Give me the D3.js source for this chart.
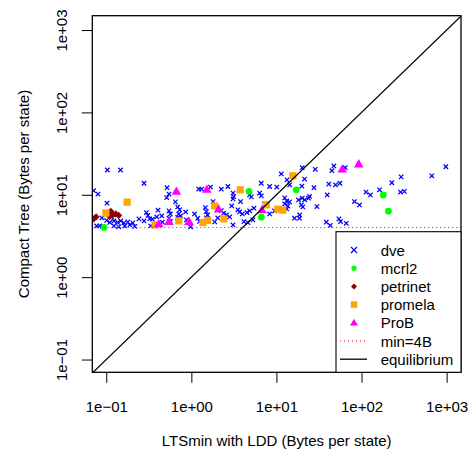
<!DOCTYPE html>
<html>
<head>
<meta charset="utf-8">
<script src="https://cdn.jsdelivr.net/npm/d3@7"></script>
<style>
  html, body { margin: 0; padding: 0; background: #fff; }
  svg { display: block; font-family: "Liberation Sans", Arial, Helvetica, sans-serif; }
</style>
</head>
<body>
<svg id="chart" width="473" height="457"></svg>
<script>
// Bytes per state: [LTSmin with LDD, Compact Tree]
const dve = [
  [0.103,20.0],[0.147,20.0],[0.278,13.8],[0.071,11.2],[0.080,10.2],[0.102,7.9],
  [0.296,6.08],[0.309,5.62],[0.324,5.10],[0.242,5.10],[0.278,4.82],[0.349,5.06],
  [0.101,4.89],[0.110,4.62],[0.123,4.82],[0.136,4.62],[0.148,4.82],[0.161,4.56],
  [0.179,4.69],[0.189,4.31],[0.205,4.56],[0.165,4.19],[0.077,4.19],[0.084,4.19],
  [0.091,4.13],[0.123,4.19],[0.140,4.08],[0.216,4.13],[0.406,6.51],[0.457,4.65],
  [0.333,4.19],[0.116,5.39],[0.089,5.24],
  [0.518,12.2],[0.546,10.2],[0.513,9.25],[0.649,8.20],[0.546,6.38],[0.567,5.86],
  [0.690,7.13],[0.729,6.56],[0.710,5.86],[0.749,5.54],[0.690,5.31],[0.546,5.20],
  [0.567,4.75],[0.873,4.96],[0.937,4.62],[0.981,4.08],[1.19,5.20],[1.25,4.75],
  [1.22,11.7],[1.32,11.7],[1.46,7.0],[1.50,6.25],[1.55,5.70],[1.51,5.24],
  [1.68,12.4],[1.80,8.27],[2.25,11.7],[2.69,12.6],[3.09,10.5],[3.14,9.50],
  [3.09,8.92],[3.79,8.27],[2.25,6.44],[2.40,5.98],[2.58,5.70],[2.82,5.39],
  [2.98,7.33],[3.09,4.31],[3.52,6.56],[3.69,6.20],[3.97,5.86],[4.50,6.08],
  [4.84,6.38],[5.44,6.87],[4.15,4.73],[4.62,4.60],[5.29,4.96],[4.84,9.97],
  [5.07,9.43],[1.88,4.69],[2.04,5.24],[1.09,5.86],[0.857,6.20],[0.449,5.54],
  [0.392,5.39],
  [6.64,13.8],[6.34,10.5],[6.64,9.70],[8.31,12.6],[10.1,12.4],[11.4,17.9],
  [13.3,15.2],[14.3,13.2],[12.5,9.17],[13.2,8.43],[12.5,7.75],[13.6,7.33],
  [14.3,8.20],[13.2,6.74],[16.3,5.20],[18.2,8.67],[20.1,9.10],[24.5,9.56],
  [19.9,12.7],[28.6,20.4],[47.3,22.4],[41.3,13.5],[49.5,13.2],[20.1,21.3],
  [44.8,19.6],[64.4,21.3],[980,21.9],[21.4,15.5],[670,17.0],[292,16.5],
  [227,14.0],[55.7,13.8],[27.6,12.2],[39.5,9.97],[113,10.8],[127,9.97],
  [163,11.5],[287,10.8],[319,11.0],[21.4,8.67],[23.8,9.10],[19.6,7.54],
  [20.4,7.13],[29.9,7.20],[82.8,8.27],[94.6,7.54],[18.7,5.70],[18.7,5.20],
  [38.5,4.65],[42.9,4.24],[54.2,5.10],[56.7,4.73],[66.1,4.50],[7.26,7.75],
  [8.31,5.86],[9.51,6.38]
];
const mcrl2 = [[0.094,4.02],[4.75,11.0],[17.1,11.5],[6.64,5.35],[180,9.97],[207,6.33]];
const petrinet = [[0.071,5.10],[0.076,5.39],[0.104,6.03],[0.113,6.29],[0.119,5.70],
  [0.129,5.86],[0.140,5.62],[0.110,5.47]];
const promela = [[0.099,6.00],[0.176,8.13],[0.374,4.31],[0.710,4.82],[1.37,4.60],
  [1.55,4.89],[1.88,7.33],[2.41,5.10],[3.76,11.5],[7.60,7.54],[10.4,6.69],
  [11.9,6.51],[15.6,17.0]];
const prob = [[0.414,4.43],[0.546,4.73],[0.667,11.0],[0.937,4.73],[1.52,11.6],
  [2.09,6.69],[6.75,6.56],[59.4,20.4],[92.8,23.6]];

const tickValues = [0.1, 1, 10, 100, 1000];
const tickLabels = ["1e\u221201", "1e+00", "1e+01", "1e+02", "1e+03"];
const minBytes = 4;
const legendLabels = ["dve", "mcrl2", "petrinet", "promela", "ProB", "min=4B", "equilibrium"];

const svg = d3.select("#chart");
const L = 92.3, R = 461, T = 15.7, B = 372.3;

// log axes spanning 0.1..1000 plus the usual 4% margin on each side
const x = d3.scaleLog().domain([Math.pow(10, -1.164), Math.pow(10, 3.169)]).range([L, R]);
const y = d3.scaleLog().domain([Math.pow(10, -1.155), Math.pow(10, 3.174)]).range([B, T]);

svg.append("clipPath").attr("id", "plotClip")
  .append("rect").attr("x", L).attr("y", T).attr("width", R - L).attr("height", B - T);

// axes
const fmt = v => tickLabels[tickValues.indexOf(v)];
const xAxis = svg.append("g").attr("transform", `translate(0,${B})`)
  .call(d3.axisBottom(x).tickValues(tickValues).tickFormat(fmt).tickSizeOuter(0).tickSize(10.5).tickPadding(0));
const yAxis = svg.append("g").attr("transform", `translate(${L},0)`)
  .call(d3.axisLeft(y).tickValues(tickValues).tickFormat(fmt).tickSizeOuter(0).tickSize(10.5));
[xAxis, yAxis].forEach(g => {
  g.select(".domain").remove();
  g.selectAll("line").attr("stroke", "#000").attr("stroke-width", 1);
  g.selectAll("text").attr("fill", "#000").style("font-size", "15px").style("font-family", null);
});
xAxis.selectAll("text").attr("y", 0).attr("dy", null)
  .attr("transform", "translate(0,36)").attr("dominant-baseline", "middle");
yAxis.selectAll("text").attr("x", null).attr("y", 0).attr("dy", null)
  .attr("text-anchor", "middle")
  .attr("transform", "translate(-25,0) rotate(-90)");

// axis titles
svg.append("text").attr("x", (L + R) / 2).attr("y", 446).attr("text-anchor", "middle")
  .style("font-size", "15px").text("LTSmin with LDD (Bytes per state)");
svg.append("text").attr("transform", `translate(29,${(T + B) / 2}) rotate(-90)`)
  .attr("text-anchor", "middle").style("font-size", "15px").text("Compact Tree (Bytes per state)");

const plot = svg.append("g").attr("clip-path", "url(#plotClip)");

// symbol painters
function cross(g, cx, cy, s, w) {
  g.append("path").attr("d", `M${cx - s},${cy - s}L${cx + s},${cy + s}M${cx - s},${cy + s}L${cx + s},${cy - s}`)
    .attr("stroke", "#0000ff").attr("stroke-width", w).attr("fill", "none");
}
function circle(g, cx, cy, r) {
  g.append("circle").attr("cx", cx).attr("cy", cy).attr("r", r).attr("fill", "#00ff00");
}
function diamond(g, cx, cy, s) {
  g.append("path").attr("d", `M${cx},${cy - s}L${cx + s},${cy}L${cx},${cy + s}L${cx - s},${cy}Z`).attr("fill", "#8b0000");
}
function square(g, cx, cy, s) {
  g.append("rect").attr("x", cx - s).attr("y", cy - s).attr("width", 2 * s).attr("height", 2 * s).attr("fill", "#ffa500");
}
function triangle(g, cx, cy, s) {
  const h = s * 1.732;
  g.append("path").attr("d", `M${cx},${cy - h * 0.6}L${cx + s},${cy + h * 0.4}L${cx - s},${cy + h * 0.4}Z`).attr("fill", "#ff00ff");
}

dve.forEach(d => cross(plot, x(d[0]), y(d[1]), 2.2, 1.25));
mcrl2.forEach(d => circle(plot, x(d[0]), y(d[1]), 3.4));
petrinet.forEach(d => diamond(plot, x(d[0]), y(d[1]), 3.6));
promela.forEach(d => square(plot, x(d[0]), y(d[1]), 3.6));
prob.forEach(d => triangle(plot, x(d[0]), y(d[1]), 4.8));

// minimum line and equilibrium
plot.append("line").attr("x1", L).attr("x2", R).attr("y1", y(minBytes)).attr("y2", y(minBytes))
  .attr("stroke", "#ff0000").attr("stroke-width", 1).attr("stroke-dasharray", "1,3");
const e0 = Math.pow(10, -1.3), e1 = Math.pow(10, 3.3);
plot.append("line").attr("x1", x(e0)).attr("y1", y(e0)).attr("x2", x(e1)).attr("y2", y(e1))
  .attr("stroke", "#000").attr("stroke-width", 1.3);

// frame
svg.append("rect").attr("x", L).attr("y", T).attr("width", R - L).attr("height", B - T)
  .attr("fill", "none").attr("stroke", "#000").attr("stroke-width", 1.3);

// legend
const lg = svg.append("g");
lg.append("rect").attr("x", 336).attr("y", 231.7).attr("width", R - 336).attr("height", B - 231.7)
  .attr("fill", "#fff").attr("stroke", "#000").attr("stroke-width", 1.1);
const rowY = i => 250 + i * 18.2;
const sx = 354;
cross(lg, sx, rowY(0), 3, 1.2);
circle(lg, sx, rowY(1), 2.6);
diamond(lg, sx, rowY(2), 3);
square(lg, sx, rowY(3), 3.2);
triangle(lg, sx, rowY(4), 4);
lg.append("line").attr("x1", 340).attr("x2", 367).attr("y1", rowY(5)).attr("y2", rowY(5))
  .attr("stroke", "#ff0000").attr("stroke-dasharray", "1,3");
lg.append("line").attr("x1", 340).attr("x2", 367).attr("y1", rowY(6)).attr("y2", rowY(6))
  .attr("stroke", "#000").attr("stroke-width", 1.3);
legendLabels.forEach((t, i) => {
  lg.append("text").attr("x", 380.7).attr("y", rowY(i)).attr("dominant-baseline", "central")
    .style("font-size", "15px").text(t);
});
</script>
</body>
</html>
